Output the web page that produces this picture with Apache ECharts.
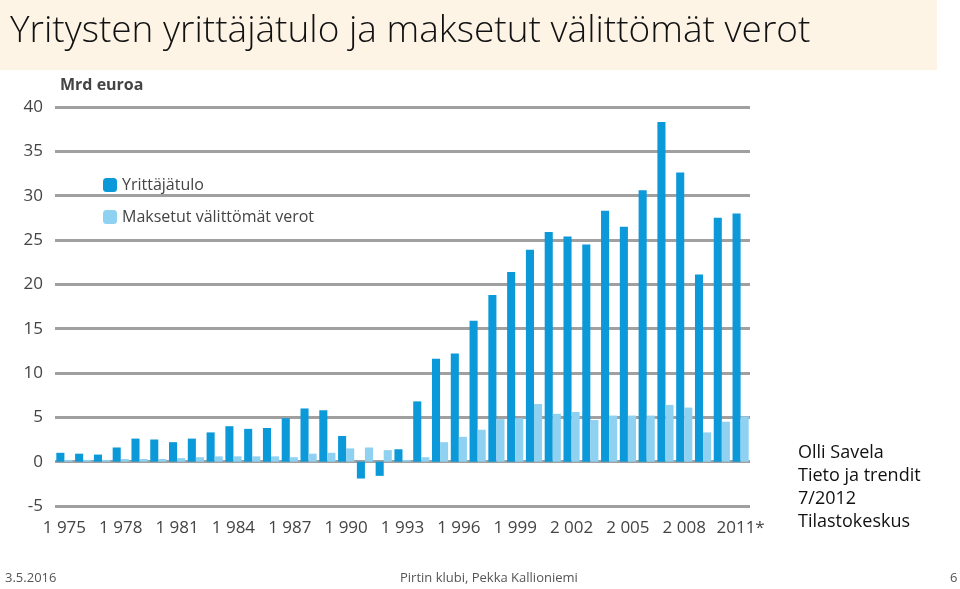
<!DOCTYPE html><html><head><meta charset="utf-8"><script src="https://cdn.jsdelivr.net/npm/echarts@6/dist/echarts.min.js"></script>
<style>body{margin:0;background:#fff}#c{width:960px;height:589px}</style></head><body><div id="c"></div><script>
const years=[];for(let y=1975;y<=2011;y++)years.push(y);
const labels=years.map(y=>y===2011?'2011*':String(y).slice(0,1)+' '+String(y).slice(1));
const yrittajatulo=[1.0,0.9,0.8,1.6,2.6,2.5,2.2,2.6,3.3,4.0,3.7,3.8,4.9,6.0,5.8,2.9,-1.9,-1.6,1.4,6.8,11.6,12.2,15.9,18.8,21.4,23.9,25.9,25.4,24.5,28.3,26.5,30.6,38.3,32.6,21.1,27.5,28.0];
const verot=[0.2,0.2,0.2,0.3,0.3,0.3,0.4,0.5,0.6,0.6,0.6,0.6,0.5,0.9,1.0,1.5,1.6,1.3,0.2,0.5,2.2,2.8,3.6,4.8,4.9,6.5,5.4,5.6,4.7,5.2,5.2,5.2,6.4,6.1,3.3,4.5,5.1];
const ch=echarts.init(document.getElementById('c'));
ch.setOption({animation:false,
graphic:[
{type:'rect',shape:{x:0,y:0,width:937,height:70},style:{fill:'#fdf4e6'}},
{type:'text',left:10,top:13,style:{text:'Yritysten yrittäjätulo ja maksetut välittömät verot',font:'300 37px "Open Sans"',fill:'#111'}},
{type:'text',left:60,top:77,style:{text:'Mrd euroa',font:'bold 16px "Open Sans"',fill:'#444'}},
{type:'text',left:798,top:441,style:{text:'Olli Savela\nTieto ja trendit\n7/2012\nTilastokeskus',font:'18px "Open Sans"',lineHeight:23,fill:'#111'}},
{type:'text',left:5,top:572,style:{text:'3.5.2016',font:'13px "Open Sans"',fill:'#555'}},
{type:'text',left:400,top:572,style:{text:'Pirtin klubi, Pekka Kallioniemi',font:'13px "Open Sans"',fill:'#555'}},
{type:'text',left:950,top:572,style:{text:'6',font:'13px "Open Sans"',fill:'#555'}}
],
legend:{orient:'vertical',left:98,top:172,itemWidth:14,itemHeight:14,itemGap:16,textStyle:{fontFamily:'Open Sans',fontSize:16,color:'#444'},data:['Yrittäjätulo','Maksetut välittömät verot']},
grid:{left:55,right:210,top:107,bottom:83},
xAxis:{type:'category',data:labels,axisLine:{show:false},axisTick:{show:false},axisLabel:{interval:2,fontFamily:'Open Sans',fontSize:17,color:'#444',margin:14}},
yAxis:{type:'value',min:-5,max:40,interval:5,axisLabel:{fontFamily:'Open Sans',fontSize:17,color:'#444',margin:12}},
series:[
{name:'Yrittäjätulo',type:'bar',data:yrittajatulo,itemStyle:{color:'#0b99d9'},barGap:'0%',barCategoryGap:'14%'},
{name:'Maksetut välittömät verot',type:'bar',data:verot,itemStyle:{color:'#8fd1f1'}}
]});
ch.setOption({yAxis:{splitLine:{lineStyle:{color:'#a0a0a0',width:3}}}});
</script></body></html>
